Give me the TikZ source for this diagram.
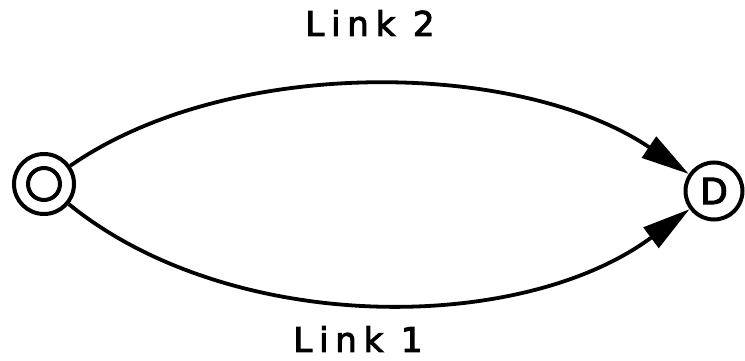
\documentclass[tikz,border=0pt]{standalone}
\usepackage{fontspec}
\newfontfamily\lblfont[LetterSpace=20,FakeBold=3]{DejaVu Sans}
\newfontfamily\dfont[FakeBold=3]{DejaVu Sans}
\usetikzlibrary{arrows.meta}
\begin{document}
\begin{tikzpicture}[x=1pt,y=1pt,
  ring/.style={circle,draw,line width=4pt,minimum size=60pt,inner sep=0pt},
  link/.style={line width=3.8pt,-{Triangle[length=48pt,width=25pt]}},
  lbl/.style={font=\fontsize{34}{40}\selectfont\lblfont,inner sep=0pt}]
\useasboundingbox (0,0) rectangle (745,360);
\node[ring] (O) at (44,176) {};
\node[circle,draw,line width=4pt,minimum size=32pt,inner sep=0pt] (Oin) at (O.center) {};
\node[ring,minimum size=57pt,font=\fontsize{36}{40}\selectfont\dfont] (D) at (714,169) {D};
\draw[link] (O) .. controls (230,305) and (520,300) .. (D);
\draw[link] (O) .. controls (230,25) and (520,25) .. (D);
\node[lbl] (l2) at (370,337) {Link 2};
\node[lbl] (l1) at (358,21) {Link 1};
\end{tikzpicture}
\end{document}
